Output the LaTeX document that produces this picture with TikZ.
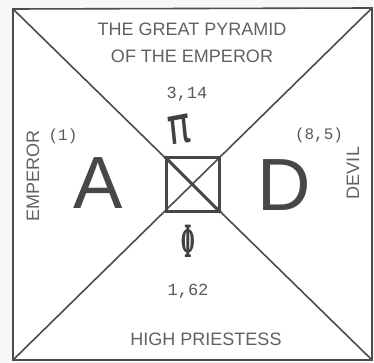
\documentclass[tikz,border=0pt]{standalone}
\usepackage{fontspec}
\setmainfont{Liberation Sans}
\newfontfamily\monof{Liberation Mono}
\newfontfamily\djv{DejaVu Sans}
\newfontfamily\djvs{DejaVu Serif}
\begin{document}
\begin{tikzpicture}[x=1pt,y=-1pt,
  ln/.style={draw=black!70, line width=1.6pt},
  lbl/.style={text=black!62, inner sep=0pt, font=\fontsize{18}{18}\selectfont},
  num/.style={text=black!65, inner sep=0pt, font=\monof\fontsize{16}{16}\selectfont},
  big/.style={text=black!72, inner sep=0pt, font=\fontsize{74}{74}\selectfont}]
\useasboundingbox (0,0) rectangle (374,363);
\fill[black!3] (0,0) rectangle (374,363);
\coordinate (nw) at (13,9);
\coordinate (ne) at (372,8);
\coordinate (sw) at (13,360);
\coordinate (se) at (372,360);
\fill[white] (nw) -- (ne) -- (se) -- (sw) -- cycle;
\draw[ln] (nw) -- (ne) -- (se) -- (sw) -- cycle;
\draw[ln] (nw) -- (se);
\draw[ln] (ne) -- (sw);
\node[draw=black!72, line width=3pt, minimum size=53pt, inner sep=0pt] (sq) at (192.5,184.5) {};
\draw[draw=black!72, line width=3pt] (sq.north west) -- (sq.south east);
% texts
\node[num, font=\monof\fontsize{17}{17}\selectfont] (piv) at (187,94) {3,14};
\node[lbl] (t1) at (192,29) {THE GREAT PYRAMID};
\node[lbl] (t2) at (192,56) {OF THE EMPEROR};
\node[text=black!75, inner sep=0pt, anchor=base, yscale=1.35, rotate=8, font=\djv\fontsize{38}{38}\selectfont] (pi) at (181,143) {π};
\node[num] (one) at (63,136) {(1)};
\node[num] (eight) at (319,135) {(8,5)};
\node[lbl, rotate=90] (emp) at (33,176) {EMPEROR};
\node[lbl, rotate=90] (devil) at (353,173) {DEVIL};
\node[big] (A) at (98,183) {A};
\node[big] (D) at (284,185) {D};
\node[text=black!75, inner sep=0pt, xscale=0.65, yscale=1.85, font=\djvs\bfseries\fontsize{24}{24}\selectfont] (phi) at (188,241) {Φ};
\node[num, font=\monof\fontsize{17}{17}\selectfont] (phv) at (188,291) {1,62};
\node[lbl] (hp) at (206,339) {HIGH PRIESTESS};
\end{tikzpicture}
\end{document}
